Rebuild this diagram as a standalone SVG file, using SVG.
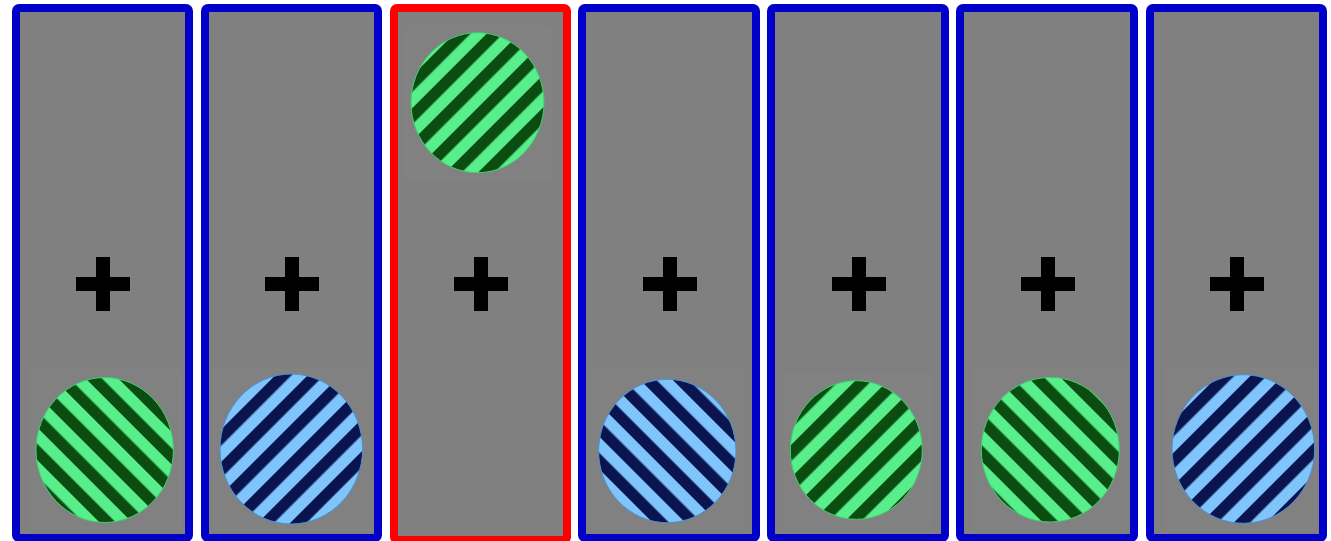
<svg xmlns="http://www.w3.org/2000/svg" width="1331" height="541" viewBox="0 0 1331 541">
<style>
.frame{fill:#808080;stroke-width:8}
.blue{stroke:#0000c8}
.red{stroke:#ff0000}
.patch{fill:#818181;stroke:#848484;stroke-width:1}
.plus{fill:#000}
.g{stroke:#3fd070;stroke-width:1}
.b{stroke:#4a90d0;stroke-width:1}
</style>
<defs>
<pattern id="gA" width="23" height="23" patternUnits="userSpaceOnUse" patternTransform="rotate(45)"><rect width="23" height="23" fill="#58ee8c"/><rect width="11.5" height="23" fill="#0b4c10"/></pattern>
<pattern id="gB" width="23" height="23" patternUnits="userSpaceOnUse" patternTransform="rotate(-45)"><rect width="23" height="23" fill="#58ee8c"/><rect width="11.5" height="23" fill="#0b4c10"/></pattern>
<pattern id="bA" width="23" height="23" patternUnits="userSpaceOnUse" patternTransform="rotate(45)"><rect width="23" height="23" fill="#80c4fc"/><rect width="11.5" height="23" fill="#0a1550"/></pattern>
<pattern id="bB" width="23" height="23" patternUnits="userSpaceOnUse" patternTransform="rotate(-45)"><rect width="23" height="23" fill="#80c4fc"/><rect width="11.5" height="23" fill="#0a1550"/></pattern>
<g id="plusShape"><rect x="-27" y="-7" width="54" height="14"/><rect x="-7" y="-27" width="14" height="54"/></g>
</defs>

<g id="panel1">
<rect class="frame blue" x="16" y="8" width="173" height="530" rx="3"/>
<rect class="patch" x="30" y="370" width="150" height="158"/>
<use href="#plusShape" class="plus" x="103" y="284"/>
<ellipse class="g" cx="104.7" cy="450" rx="68.7" ry="72.5" fill="url(#gB)"/>
</g>
<g id="panel2">
<rect class="frame blue" x="205" y="8" width="173" height="530" rx="3"/>
<rect class="patch" x="214" y="370" width="156" height="160"/>
<use href="#plusShape" class="plus" x="292" y="284"/>
<ellipse class="b" cx="291.3" cy="449" rx="71.3" ry="75" fill="url(#bA)"/>
</g>
<g id="panel3">
<rect class="frame red" x="394" y="8" width="173" height="532" rx="3"/>
<rect class="patch" x="405" y="28" width="146" height="150"/>
<use href="#plusShape" class="plus" x="481" y="284"/>
<ellipse class="g" cx="477.5" cy="102.7" rx="66.5" ry="70" fill="url(#gA)"/>
</g>
<g id="panel4">
<rect class="frame blue" x="582" y="8" width="174" height="530" rx="3"/>
<rect class="patch" x="592" y="372" width="152" height="156"/>
<use href="#plusShape" class="plus" x="670" y="284"/>
<ellipse class="b" cx="667.3" cy="451" rx="68.7" ry="71.7" fill="url(#bB)"/>
</g>
<g id="panel5">
<rect class="frame blue" x="771" y="8" width="174" height="530" rx="3"/>
<rect class="patch" x="784" y="374" width="146" height="152"/>
<use href="#plusShape" class="plus" x="859" y="284"/>
<ellipse class="g" cx="856.3" cy="450" rx="66" ry="69.3" fill="url(#gA)"/>
</g>
<g id="panel6">
<rect class="frame blue" x="960" y="8" width="174" height="530" rx="3"/>
<rect class="patch" x="974" y="370" width="152" height="158"/>
<use href="#plusShape" class="plus" x="1048" y="284"/>
<ellipse class="g" cx="1050.3" cy="449.7" rx="69" ry="72.3" fill="url(#gB)"/>
</g>
<g id="panel7">
<rect class="frame blue" x="1150" y="8" width="173" height="530" rx="3"/>
<rect class="patch" x="1166" y="368" width="150" height="162"/>
<use href="#plusShape" class="plus" x="1237" y="284"/>
<ellipse class="b" cx="1243.3" cy="449" rx="71.3" ry="74.3" fill="url(#bA)"/>
</g>
<g id="connectors"/>
</svg>
